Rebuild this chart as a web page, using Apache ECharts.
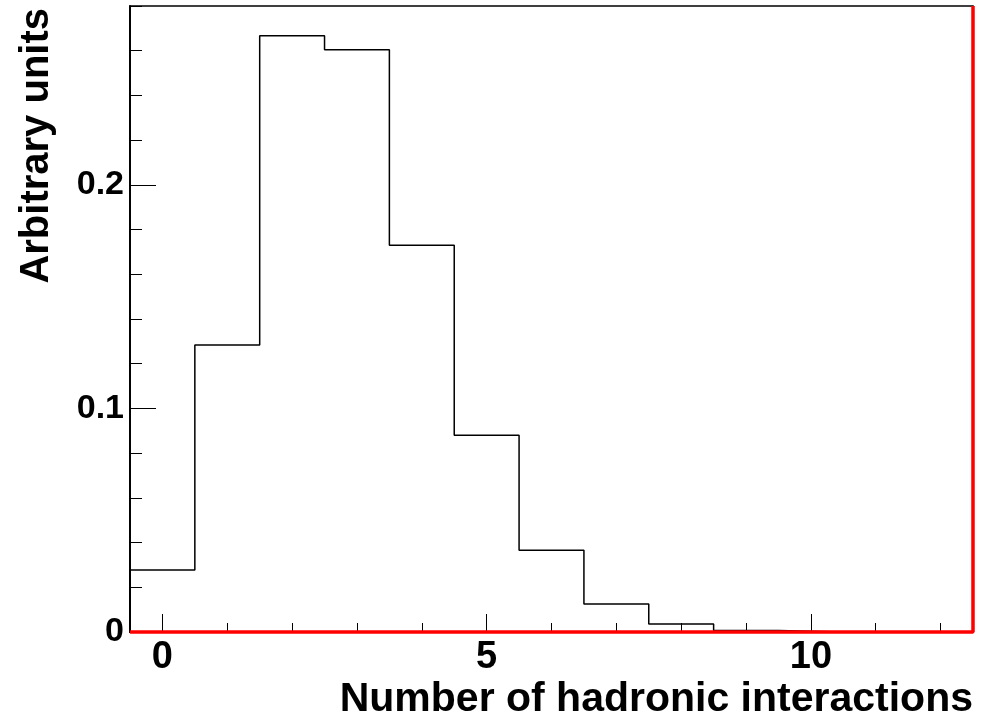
<!DOCTYPE html>
<html>
<head>
<meta charset="utf-8">
<script src="https://cdn.jsdelivr.net/npm/echarts@6/dist/echarts.min.js"></script>
<style>
  html, body { margin: 0; padding: 0; background: #fff; }
  #chart { width: 987px; height: 719px; }
</style>
</head>
<body>
<div id="chart"></div>
<script>
// Histogram: number of hadronic interactions per event (unit-width bins)
const binCenters = [0, 1, 2, 3, 4, 5, 6, 7, 8, 9, 10, 11, 12];
const binContents = [0.0277, 0.1284, 0.2667, 0.2604, 0.1730, 0.0880, 0.0366, 0.0125, 0.0036, 0.0007, 0, 0, 0];

// Second (empty) histogram outline drawn in red
const emptyHistOutline = [[-0.5, 0], [12.5, 0], [12.5, 0.28]];

// Axis ranges and ticks
const xRange = [-0.5, 12.5];
const yRange = [0, 0.28];
const xMajorTicks = [0, 5, 10];
const xMinorTicks = [0, 1, 2, 3, 4, 5, 6, 7, 8, 9, 10, 11, 12];
const xTickLabels = ['0', '5', '10'];
const yMajorTicks = [0, 0.1, 0.2];
const yMinorTicks = [0, 0.02, 0.04, 0.06, 0.08, 0.1, 0.12, 0.14, 0.16, 0.18, 0.2, 0.22, 0.24, 0.26, 0.28];
const yTickLabels = ['0', '0.1', '0.2'];

const xTitle = 'Number of hadronic interactions';
const yTitle = 'Arbitrary units';

// Build the step outline from bin edges
const outline = [[xRange[0], 0]];
binCenters.forEach((c, i) => {
  outline.push([c - 0.5, binContents[i]]);
  outline.push([c + 0.5, binContents[i]]);
});
outline.push([xRange[1], 0]);

const FONT = '"Liberation Sans", Arial, Helvetica, sans-serif';

const chart = echarts.init(document.getElementById('chart'), null, { renderer: 'canvas' });

const baseX = {
  type: 'value', min: xRange[0], max: xRange[1], position: 'bottom',
  splitLine: { show: false },
  axisLine: { show: true, onZero: false, lineStyle: { color: '#000', width: 1 } }
};
const baseY = {
  type: 'value', min: yRange[0], max: yRange[1], position: 'left',
  splitLine: { show: false },
  axisLine: { show: true, onZero: false, lineStyle: { color: '#000', width: 1.5 } }
};

chart.setOption({
  animation: false,
  backgroundColor: '#fff',
  grid: {
    left: 130, right: 14, top: 6, bottom: 87,
    show: true, borderColor: '#000', borderWidth: 1.5, backgroundColor: 'transparent'
  },
  xAxis: [
    Object.assign({}, baseX, {
      axisTick: { show: true, inside: true, length: 9, customValues: xMinorTicks, lineStyle: { color: '#000', width: 1 } },
      axisLabel: { show: false }
    }),
    Object.assign({}, baseX, {
      axisTick: { show: true, inside: true, length: 18, customValues: xMajorTicks, lineStyle: { color: '#000', width: 1 } },
      axisLabel: {
        show: true, customValues: xMajorTicks, margin: 7,
        fontFamily: FONT, fontWeight: 'bold', fontSize: 38, color: '#000',
        formatter: v => xTickLabels[xMajorTicks.indexOf(v)]
      }
    })
  ],
  yAxis: [
    Object.assign({}, baseY, {
      axisTick: { show: true, inside: true, length: 12, customValues: yMinorTicks, lineStyle: { color: '#000', width: 1 } },
      axisLabel: { show: false }
    }),
    Object.assign({}, baseY, {
      axisTick: { show: true, inside: true, length: 26, customValues: yMajorTicks, lineStyle: { color: '#000', width: 1 } },
      axisLabel: {
        show: true, customValues: yMajorTicks, margin: 6,
        fontFamily: FONT, fontWeight: 'bold', fontSize: 34, color: '#000',
        formatter: v => yTickLabels[yMajorTicks.indexOf(v)]
      }
    })
  ],
  graphic: [
    {
      type: 'text', x: 973, y: 700,
      style: {
        text: xTitle, fill: '#000', font: 'bold 41px ' + FONT,
        textAlign: 'right', textVerticalAlign: 'middle'
      }
    },
    {
      type: 'text', x: 37, y: 8, rotation: Math.PI / 2,
      style: {
        text: yTitle, fill: '#000', font: 'bold 40px ' + FONT,
        textAlign: 'right', textVerticalAlign: 'middle'
      }
    }
  ],
  series: [
    {
      type: 'line', xAxisIndex: 0, yAxisIndex: 0,
      data: outline, symbol: 'none', clip: false, z: 3,
      lineStyle: { color: '#000', width: 1.5 }
    },
    {
      type: 'line', xAxisIndex: 0, yAxisIndex: 0,
      data: emptyHistOutline, symbol: 'none', clip: false, z: 4,
      lineStyle: { color: '#ff0000', width: 3.5 }
    }
  ]
});
</script>
</body>
</html>
